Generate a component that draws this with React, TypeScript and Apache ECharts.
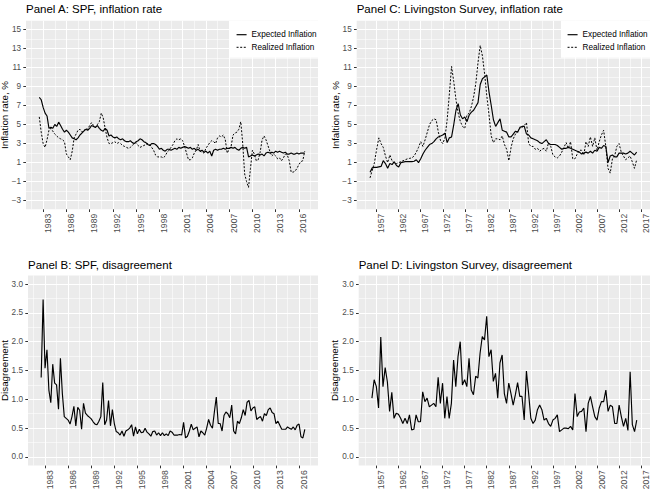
import React, { useEffect, useRef } from "react";
import * as echarts from "echarts";

// ---------------------------------------------------------------------------
// Survey of Professional Forecasters, quarterly, first observation 1982.5
// ---------------------------------------------------------------------------
const spfStart = 1982.5;
const spfStep = 0.25;

// Expected CPI inflation, % (quarterly)
const spfExpected = [
  7.85, 7.6,
  6.8, 6.2, 5.9, 4.6,
  4.7, 4.6, 5.0, 4.8,
  5.25, 4.9, 4.5, 4.2,
  4.4, 4.2, 3.9, 3.6,
  3.5, 3.4, 3.6, 3.9,
  4.1, 4.3, 4.5, 4.4,
  4.6, 4.9, 4.8, 4.7,
  4.9, 4.6, 4.4, 4.3,
  4.6, 4.4, 3.8, 3.9,
  3.7, 3.6, 3.7, 3.5,
  3.4, 3.5, 3.3, 3.2,
  3.2, 3.3, 3.1, 3.0,
  3.2, 3.3, 3.5, 3.4,
  3.2, 3.1, 2.9, 2.8,
  3.0, 3.0, 2.9, 2.7,
  2.4, 2.5, 2.3, 2.2,
  2.4, 2.4, 2.3, 2.4,
  2.5, 2.4, 2.6, 2.5,
  2.6, 2.7, 2.6, 2.5,
  2.6, 2.4, 2.5, 2.3,
  2.4, 2.2, 2.3, 2.1,
  2.2, 2.0, 2.2, 1.7,
  2.3, 2.4, 2.3, 2.4,
  2.4, 2.5, 2.4, 2.5,
  2.5, 2.6, 2.5, 2.6,
  2.4, 2.3, 2.5, 2.6,
  2.5, 2.6, 1.6, 1.7,
  1.8, 1.7, 1.8, 1.9,
  1.8, 1.9, 1.7, 2.0,
  2.1, 2.0, 2.1, 2.0,
  2.2, 2.1, 2.2, 2.1,
  2.0, 2.1, 1.9, 1.9,
  2.0, 1.9, 1.9, 2.0,
  1.9, 2.0, 2.0, 2.0,
];

// Realized CPI inflation, % (quarterly)
const spfRealized = [
  5.8, 4.2,
  3.0, 2.6, 3.4, 4.4,
  4.6, 4.3, 4.0, 3.8,
  3.6, 3.5, 3.4, 3.2,
  1.9, 1.6, 1.3, 2.2,
  3.6, 4.0, 4.4, 4.5,
  4.2, 4.3, 4.6, 4.5,
  4.9, 5.2, 4.9, 4.7,
  5.0, 5.3, 6.2, 5.7,
  4.6, 3.6, 3.0, 3.0,
  3.1, 3.2, 3.0, 3.1,
  3.0, 2.8, 2.7, 2.6,
  2.5, 2.6, 2.8, 3.0,
  3.1, 2.8, 2.6, 2.7,
  2.8, 2.9, 3.0, 2.9,
  2.6, 2.3, 1.8, 1.6,
  1.6, 1.6, 1.5, 1.7,
  2.1, 2.3, 2.6, 2.9,
  3.3, 3.5, 3.4, 3.5,
  3.3, 2.7, 2.0, 1.3,
  1.3, 1.5, 2.0, 2.3,
  2.9, 2.2, 2.1, 2.0,
  2.5, 2.8, 3.1, 3.3,
  3.2, 3.0, 3.6, 3.8,
  3.7, 3.9, 3.4, 2.0,
  2.4, 2.7, 3.9, 4.1,
  4.2, 4.5, 5.3, 3.0,
  -0.2, -1.0, -1.6, 0.4,
  2.3, 1.9, 1.2, 1.3,
  2.1, 3.4, 3.8, 3.4,
  2.8, 2.2, 1.7, 1.9,
  1.7, 1.4, 1.5, 1.2,
  1.5, 1.9, 1.8, 1.2,
  0.0, 0.0, 0.1, 0.4,
  0.8, 1.1, 1.2, 2.2,
];

// Forecaster disagreement (quarterly)
const spfDisagreement = [
  1.38, 2.73,
  1.54, 1.86, 1.16, 0.94,
  1.61, 1.28, 1.25, 0.83,
  1.71, 1.10, 0.70, 0.67,
  0.64, 0.57, 0.70, 0.88,
  0.54, 0.86, 0.81, 0.48,
  0.93, 0.76, 0.72, 0.69,
  0.66, 0.61, 0.57, 0.56,
  0.62, 0.70, 1.29, 0.56,
  0.64, 0.98, 0.54, 0.82,
  0.58, 0.44, 0.42, 0.38,
  0.45, 0.36, 0.45, 0.47,
  0.50, 0.56, 0.36, 0.52,
  0.40, 0.48, 0.42, 0.43,
  0.50, 0.43, 0.40, 0.36,
  0.44, 0.45, 0.38, 0.42,
  0.37, 0.42, 0.37, 0.40,
  0.37, 0.45, 0.43, 0.38,
  0.38, 0.38, 0.39, 0.38,
  0.60, 0.33, 0.36, 0.45,
  0.57, 0.47, 0.50, 0.52,
  0.35, 0.45, 0.42, 0.38,
  0.50, 0.65, 0.55, 0.50,
  0.78, 1.04, 0.58, 0.58,
  0.45, 0.72, 0.78, 0.75,
  0.68, 0.90, 0.45, 0.40,
  0.62, 0.58, 0.68, 0.82,
  0.72, 0.95, 0.98, 0.80,
  0.85, 0.87, 0.65, 0.68,
  0.70, 0.62, 0.75, 0.72,
  0.82, 0.85, 0.77, 0.75,
  0.58, 0.62, 0.55, 0.48,
  0.48, 0.48, 0.52, 0.50,
  0.48, 0.52, 0.47, 0.55,
  0.57, 0.35, 0.33, 0.48,
];

// ---------------------------------------------------------------------------
// Livingston Survey, semi-annual
// ---------------------------------------------------------------------------
const livStart = 1955.5;
const livStep = 0.5;

const livExpected = [
  0.0,
  0.45, 0.5,
  0.5, 0.55,
  0.6, 1.2,
  0.9, 0.4,
  0.9, 0.8,
  1.1, 0.7,
  0.55, 1.0,
  1.05, 1.1,
  1.1, 1.1,
  1.1, 1.15,
  1.3, 1.0,
  1.4, 1.9,
  2.3, 2.6,
  2.9, 3.0,
  3.2, 3.5,
  3.7, 3.8,
  3.9, 4.1,
  3.1, 3.6,
  3.7, 5.0,
  6.5, 7.2,
  6.0, 5.6,
  5.8, 5.3,
  6.0, 6.3,
  6.5, 6.9,
  7.3, 9.2,
  9.8, 10.0,
  10.2, 8.4,
  7.0, 5.5,
  4.8, 5.2,
  5.6, 4.4,
  4.3, 4.2,
  3.7, 3.7,
  4.0, 4.3,
  4.2, 4.7,
  4.8, 4.8,
  4.0, 3.9,
  3.6, 3.5,
  3.4, 3.3,
  3.1, 3.0,
  3.2, 3.4,
  3.0, 2.9,
  2.9, 2.9,
  2.8, 2.6,
  2.4, 2.5,
  2.5, 2.6,
  2.5, 2.4,
  2.3, 2.2,
  2.1, 1.9,
  2.0, 2.1,
  2.0, 2.2,
  2.0, 2.3,
  2.2, 2.6,
  2.5, 2.8,
  2.7, 1.0,
  1.7, 1.8,
  1.6, 1.6,
  2.0, 2.0,
  2.0, 1.9,
  2.0, 2.2,
  2.0, 1.8,
  2.1,
];

const livRealized = [
  -0.6,
  0.2, 1.0,
  2.4, 3.6,
  3.0, 2.6,
  1.7, 1.0,
  1.8, 1.2,
  0.9, 0.9,
  1.0, 1.1,
  1.2, 1.3,
  1.4, 1.45,
  1.5, 1.7,
  2.1, 2.6,
  3.2, 2.7,
  3.4, 4.2,
  5.0, 5.4,
  5.6, 5.5,
  4.2, 3.3,
  3.0, 3.6,
  5.5, 8.2,
  11.1, 9.5,
  7.6, 6.2,
  5.3, 4.8,
  4.6, 6.0,
  6.2, 6.9,
  7.9, 9.3,
  11.5, 13.3,
  12.2, 10.3,
  8.0, 6.0,
  3.8, 3.1,
  3.5, 3.5,
  3.4, 3.8,
  2.9, 2.4,
  1.2, 2.6,
  3.5, 4.0,
  4.3, 4.6,
  4.7, 4.9,
  5.2, 3.0,
  2.7, 2.7,
  2.4, 2.5,
  2.2, 2.4,
  2.5, 2.2,
  3.1, 2.7,
  1.8, 1.6,
  1.5, 1.7,
  2.1, 2.6,
  3.1, 2.5,
  3.2, 1.4,
  1.4, 1.9,
  2.3, 2.3,
  1.8, 3.2,
  2.7, 3.7,
  2.7, 3.6,
  2.3, 3.2,
  3.9, 4.4,
  2.7, 0.4,
  -0.1, 1.4,
  1.7, 2.7,
  3.0, 2.1,
  1.7, 1.3,
  1.5, 1.7,
  1.1, 0.4,
  1.3,
];

const livDisagreementStart = 1956.0;
const livDisagreement = [
  1.02, 1.34,
  1.22, 0.85,
  2.08, 1.22,
  1.55, 1.30,
  0.79, 1.12,
  0.67, 0.76,
  0.74, 0.67,
  0.58, 0.67,
  0.58, 0.73,
  0.47, 0.48,
  0.73, 0.61,
  0.61, 1.13,
  0.96, 1.02,
  0.87, 0.90,
  0.93, 0.87,
  1.38, 0.93,
  1.28, 0.67,
  1.05, 0.67,
  0.93, 1.68,
  1.22, 1.74,
  2.00, 1.25,
  1.34, 1.22,
  1.71, 1.16,
  1.08, 1.40,
  1.37, 1.80,
  2.09, 2.03,
  2.44, 1.74,
  1.86, 1.31,
  1.45, 1.02,
  1.63, 1.77,
  1.10, 0.93,
  1.28, 1.10,
  0.90, 1.08,
  1.29, 1.05,
  1.05, 0.64,
  1.49, 1.10,
  0.67, 0.58,
  0.64, 0.82,
  0.90, 0.82,
  0.64, 0.67,
  0.58, 0.53,
  0.64, 0.67,
  0.73, 0.44,
  0.47, 0.50,
  0.50, 0.49,
  0.53, 0.47,
  1.10, 0.70,
  0.78, 0.79,
  0.85, 0.44,
  0.93, 1.05,
  0.87, 0.70,
  0.64, 0.85,
  0.96, 0.96,
  1.16, 0.79,
  0.90, 0.87,
  0.58, 0.58,
  0.90, 0.70,
  0.53, 0.67,
  0.46, 1.48,
  0.56, 0.44,
  0.64,
];

// Axis breaks
const spfYearTicks = [1983, 1986, 1989, 1992, 1995, 1998, 2001, 2004, 2007, 2010, 2013, 2016];
const livYearTicks = [1957, 1962, 1967, 1972, 1977, 1982, 1987, 1992, 1997, 2002, 2007, 2012, 2017];
const inflationTicks = [-3, -1, 1, 3, 5, 7, 9, 11, 13, 15];
const disagreementTicks = [0, 0.5, 1, 1.5, 2, 2.5, 3];

const EXPECTED = "Expected Inflation";
const REALIZED = "Realized Inflation";

// ---------------------------------------------------------------------------
// Styling
// ---------------------------------------------------------------------------
const FONT = "'Liberation Sans', Arial, Helvetica, sans-serif";
const AXIS_TEXT = "#4D4D4D";
const TICK = "#333333";
const PANEL_BG = "#EBEBEB";
const DASH = [2, 1.6];
const SMALL = 8.2;

function toPairs(start: number, step: number, values: number[]) {
  return values.map((v, i) => [+(start + i * step).toFixed(3), v]);
}

function minorBreaks(major: number[], lo: number, hi: number) {
  const step = major[1] - major[0];
  const out: number[] = [];
  for (let i = -1; i < major.length; i++) {
    const v = +(major[0] + (i + 0.5) * step).toFixed(4);
    if (v >= lo && v <= hi) out.push(v);
  }
  return out;
}

const minusFormat = (v: number) => (v < 0 ? "\u2212" + Math.abs(v) : String(v));
const oneDecimal = (v: number) => v.toFixed(1);

type Panel = {
  title: string;
  titleTop: number;
  box: { left: number; top: number; width: number; height: number };
  xRange: [number, number];
  xTicks: number[];
  yRange: [number, number];
  yTicks: number[];
  yName: string;
  yNameX: number;
  yFormat: (v: number) => string;
};

const panels: Panel[] = [
  {
    title: "Panel A: SPF, inflation rate",
    titleTop: 3,
    box: { left: 26, top: 20.7, width: 292, height: 188.6 },
    xRange: [1980.7875, 2018.4625],
    xTicks: spfYearTicks,
    yRange: [-3.9, 15.9],
    yTicks: inflationTicks,
    yName: "Inflation rate, %",
    yNameX: 4.2,
    yFormat: minusFormat,
  },
  {
    title: "Panel C: Livingston Survey, inflation rate",
    titleTop: 3,
    box: { left: 356.7, top: 20.7, width: 293.3, height: 188.6 },
    xRange: [1952.475, 2019.025],
    xTicks: livYearTicks,
    yRange: [-3.9, 15.9],
    yTicks: inflationTicks,
    yName: "Infaltion rate, %",
    yNameX: 335,
    yFormat: minusFormat,
  },
  {
    title: "Panel B: SPF, disagreement",
    titleTop: 259.2,
    box: { left: 28, top: 275.4, width: 290, height: 190.2 },
    xRange: [1980.7875, 2018.4625],
    xTicks: spfYearTicks,
    yRange: [-0.15, 3.15],
    yTicks: disagreementTicks,
    yName: "Disagreement",
    yNameX: 4.4,
    yFormat: oneDecimal,
  },
  {
    title: "Panel D: Livingston Survey, disagreement",
    titleTop: 259.2,
    box: { left: 358.7, top: 275.4, width: 291.3, height: 190.2 },
    xRange: [1953, 2019],
    xTicks: livYearTicks,
    yRange: [-0.15, 3.15],
    yTicks: disagreementTicks,
    yName: "Disagreement",
    yNameX: 334.2,
    yFormat: oneDecimal,
  },
];

function lineSeries(name: string, panelIndex: number, data: number[][], dashed: boolean) {
  return {
    type: "line",
    name,
    xAxisIndex: panelIndex * 2,
    yAxisIndex: panelIndex * 2,
    data,
    symbol: "none",
    showSymbol: false,
    silent: true,
    z: 3,
    lineStyle: { color: "#000000", width: dashed ? 1.0 : 1.15, type: dashed ? DASH : "solid" },
  };
}

function legendAt(left: number) {
  return {
    orient: "vertical",
    left,
    top: 20.7,
    z: 5,
    itemWidth: 10,
    itemHeight: 10,
    itemGap: 4.6,
    padding: [10, 4, 6.4, 6],
    backgroundColor: "#ffffff",
    selectedMode: false,
    itemStyle: { opacity: 0 },
    textStyle: { fontSize: SMALL, color: "#000000", fontFamily: FONT },
    data: [
      { name: EXPECTED, lineStyle: { color: "#000000", width: 1.15, type: "solid" } },
      { name: REALIZED, lineStyle: { color: "#000000", width: 1.0, type: DASH } },
    ],
  };
}

function buildOption() {
  const grid = panels.map((p) => ({
    left: p.box.left,
    top: p.box.top,
    width: p.box.width,
    height: p.box.height,
    show: false,
    containLabel: false,
    outerBoundsMode: "none",
  }));

  // grey panel backgrounds behind the grid lines, and the rotated y-axis titles
  const graphic = [
    ...panels.map((p) => ({
      type: "rect",
      silent: true,
      z: -10,
      shape: { x: p.box.left, y: p.box.top, width: p.box.width, height: p.box.height },
      style: { fill: PANEL_BG },
    })),
    ...panels.map((p) => ({
      type: "text",
      silent: true,
      x: p.yNameX,
      y: p.box.top + p.box.height / 2,
      rotation: Math.PI / 2,
      style: {
        text: p.yName,
        fontSize: 9.8,
        fontFamily: FONT,
        fill: "#000000",
        align: "center",
        verticalAlign: "middle",
      },
    })),
  ];

  const xAxis = panels.flatMap((p, i) => [
    {
      type: "value",
      gridIndex: i,
      position: "bottom",
      min: p.xRange[0],
      max: p.xRange[1],
      axisLine: { show: false, onZero: false },
      axisTick: { show: true, length: 2.7, lineStyle: { color: TICK, width: 1 }, customValues: p.xTicks },
      axisLabel: {
        show: true,
        customValues: p.xTicks,
        rotate: 90,
        verticalAlign: "top",
        margin: 4.5,
        fontSize: 8.6,
        color: AXIS_TEXT,
        fontFamily: FONT,
        formatter: (v: number) => String(Math.round(v)),
      },
      splitLine: { show: true, lineStyle: { color: "#ffffff", width: 1.1 } },
    },
    {
      type: "value",
      gridIndex: i,
      position: "top",
      min: p.xRange[0],
      max: p.xRange[1],
      axisLine: { show: false, onZero: false },
      axisTick: { show: false, customValues: minorBreaks(p.xTicks, p.xRange[0], p.xRange[1]) },
      axisLabel: { show: false },
      splitLine: { show: true, lineStyle: { color: "#ffffff", width: 0.55 } },
    },
  ]);

  const yAxis = panels.flatMap((p, i) => [
    {
      type: "value",
      gridIndex: i,
      position: "left",
      min: p.yRange[0],
      max: p.yRange[1],
      axisLine: { show: false, onZero: false },
      axisTick: { show: true, length: 2.7, lineStyle: { color: TICK, width: 1 }, customValues: p.yTicks },
      axisLabel: {
        show: true,
        customValues: p.yTicks,
        margin: 5,
        fontSize: SMALL,
        color: AXIS_TEXT,
        fontFamily: FONT,
        formatter: p.yFormat,
      },
      splitLine: { show: true, lineStyle: { color: "#ffffff", width: 1.1 } },
    },
    {
      type: "value",
      gridIndex: i,
      position: "right",
      min: p.yRange[0],
      max: p.yRange[1],
      axisLine: { show: false, onZero: false },
      axisTick: { show: false, customValues: minorBreaks(p.yTicks, p.yRange[0], p.yRange[1]) },
      axisLabel: { show: false },
      splitLine: { show: true, lineStyle: { color: "#ffffff", width: 0.55 } },
    },
  ]);

  const title = panels.map((p) => ({
    text: p.title,
    left: p.box.left,
    top: p.titleTop,
    padding: 0,
    textStyle: { fontSize: 11.5, lineHeight: 11.5, fontWeight: "normal", color: "#000000", fontFamily: FONT },
  }));

  const series = [
    lineSeries(EXPECTED, 0, toPairs(spfStart, spfStep, spfExpected), false),
    lineSeries(REALIZED, 0, toPairs(spfStart, spfStep, spfRealized), true),
    lineSeries(EXPECTED, 1, toPairs(livStart, livStep, livExpected), false),
    lineSeries(REALIZED, 1, toPairs(livStart, livStep, livRealized), true),
    lineSeries("SPF disagreement", 2, toPairs(spfStart, spfStep, spfDisagreement), false),
    lineSeries("Livingston disagreement", 3, toPairs(livDisagreementStart, livStep, livDisagreement), false),
  ];

  return {
    animation: false,
    backgroundColor: "#ffffff",
    textStyle: { fontFamily: FONT },
    title,
    legend: [legendAt(230), legendAt(561)],
    graphic,
    grid,
    xAxis,
    yAxis,
    series,
  };
}

export default function App() {
  const ref = useRef<HTMLDivElement>(null);

  useEffect(() => {
    if (!ref.current) return;
    const chart = echarts.init(ref.current, undefined, { renderer: "svg" });
    chart.setOption(buildOption() as any);
    return () => chart.dispose();
  }, []);

  return (
    <div
      ref={ref}
      style={{ position: "absolute", left: 0, top: 0, width: 652, height: 494, background: "#ffffff" }}
    />
  );
}
